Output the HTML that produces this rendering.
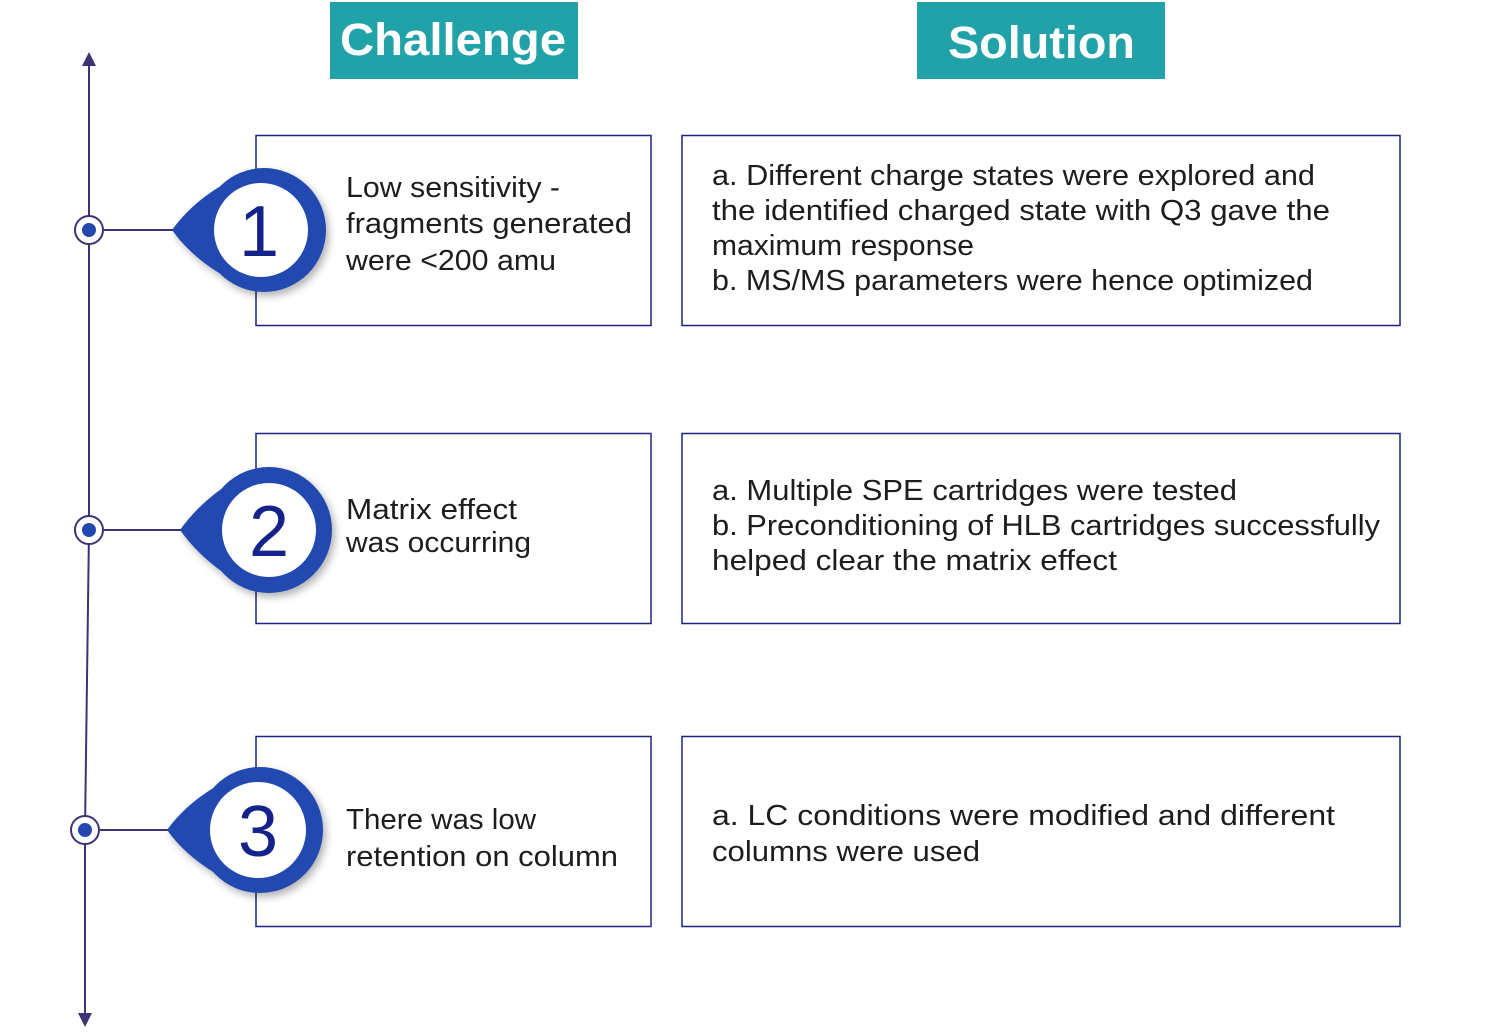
<!DOCTYPE html>
<html><head><meta charset="utf-8"><style>
html,body{margin:0;padding:0;background:#fff;width:1494px;height:1034px;overflow:hidden}
text{font-family:"Liberation Sans",sans-serif}
</style></head><body>
<svg width="1494" height="1034" viewBox="0 0 1494 1034" xmlns="http://www.w3.org/2000/svg">
<defs>
<filter id="sh" x="-30%" y="-30%" width="160%" height="160%"><feDropShadow dx="3" dy="4" stdDeviation="4" flood-color="#000" flood-opacity="0.3"/></filter>
</defs>
<rect x="330" y="2" width="248" height="77" fill="#21a2a8"/>
<text x="340" y="55" font-size="45" font-weight="bold" fill="#fff" textLength="226" lengthAdjust="spacingAndGlyphs">Challenge</text>
<rect x="917" y="2" width="248" height="77" fill="#21a2a8"/>
<text x="948" y="58" font-size="45" font-weight="bold" fill="#fff" textLength="187" lengthAdjust="spacingAndGlyphs">Solution</text>

<polyline points="89,62 89,530 85,830 85,1016" fill="none" stroke="#3f3275" stroke-width="2"/>
<polygon points="89,52 82,66 96,66" fill="#3f3275"/>
<polygon points="85,1027 78,1013 92,1013" fill="#3f3275"/>

<g fill="none" stroke="#1a237e" stroke-width="1.5">
<rect x="256" y="135.5" width="395" height="190"/>
<rect x="682" y="135.5" width="718" height="190"/>
<rect x="256" y="433.5" width="395" height="190"/>
<rect x="682" y="433.5" width="718" height="190"/>
<rect x="256" y="736.5" width="395" height="190"/>
<rect x="682" y="736.5" width="718" height="190"/>
</g>

<g stroke="#3f3275" stroke-width="2">
<line x1="104" y1="230" x2="180" y2="230"/>
<line x1="104" y1="530" x2="185" y2="530"/>
<line x1="100" y1="830" x2="175" y2="830"/>
</g>
<g fill="#fff" stroke="#3f3275" stroke-width="2">
<circle cx="89" cy="230" r="14"/><circle cx="89" cy="530" r="14"/><circle cx="85" cy="830" r="14"/>
</g>
<g fill="#2448b0">
<circle cx="89" cy="230" r="7"/><circle cx="89" cy="530" r="7"/><circle cx="85" cy="830" r="7"/>
</g>

<g fill="#2448b0" filter="url(#sh)">
<path d="M172,230 Q190,205 219,187 L219,273 Q190,255 172,230Z"/><circle cx="264" cy="230" r="62"/>
<path d="M180,530 Q198,505 224,487 L224,573 Q198,555 180,530Z"/><circle cx="269" cy="530" r="63"/>
<path d="M167,830 Q185,805 215,787 L215,873 Q185,855 167,830Z"/><circle cx="260" cy="830" r="63"/>
</g>
<g fill="#fff">
<circle cx="261" cy="230" r="47"/><circle cx="269" cy="530" r="47"/><circle cx="258" cy="830" r="48"/>
</g>
<g fill="#13238a" font-size="72" text-anchor="middle">
<text x="259" y="256">1</text>
<text x="269" y="556">2</text>
<text x="258" y="856">3</text>
</g>

<g fill="#1d1d1d" font-size="29">
<text x="346" y="197" textLength="214" lengthAdjust="spacingAndGlyphs">Low sensitivity -</text>
<text x="346" y="233" textLength="286" lengthAdjust="spacingAndGlyphs">fragments generated</text>
<text x="346" y="270" textLength="210" lengthAdjust="spacingAndGlyphs">were &lt;200 amu</text>
<text x="346" y="519" textLength="171" lengthAdjust="spacingAndGlyphs">Matrix effect</text>
<text x="346" y="552" textLength="185" lengthAdjust="spacingAndGlyphs">was occurring</text>
<text x="346" y="829" textLength="190" lengthAdjust="spacingAndGlyphs">There was low</text>
<text x="346" y="866" textLength="272" lengthAdjust="spacingAndGlyphs">retention on column</text>

<text x="712" y="185" textLength="603" lengthAdjust="spacingAndGlyphs">a. Different charge states were explored and</text>
<text x="712" y="220" textLength="618" lengthAdjust="spacingAndGlyphs">the identified charged state with Q3 gave the</text>
<text x="712" y="255" textLength="262" lengthAdjust="spacingAndGlyphs">maximum response</text>
<text x="712" y="290" textLength="601" lengthAdjust="spacingAndGlyphs">b. MS/MS parameters were hence optimized</text>

<text x="712" y="500" textLength="525" lengthAdjust="spacingAndGlyphs">a. Multiple SPE cartridges were tested</text>
<text x="712" y="535" textLength="668" lengthAdjust="spacingAndGlyphs">b. Preconditioning of HLB cartridges successfully</text>
<text x="712" y="570" textLength="405" lengthAdjust="spacingAndGlyphs">helped clear the matrix effect</text>

<text x="712" y="825" textLength="623" lengthAdjust="spacingAndGlyphs">a. LC conditions were modified and different</text>
<text x="712" y="861" textLength="268" lengthAdjust="spacingAndGlyphs">columns were used</text>
</g>
</svg>
</body></html>
